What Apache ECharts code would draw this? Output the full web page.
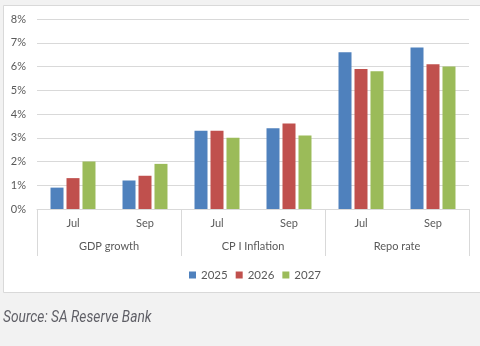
<!DOCTYPE html>
<html>
<head>
<meta charset="utf-8">
<script src="https://cdn.jsdelivr.net/npm/echarts@6/dist/echarts.min.js"></script>
<style>
html,body{margin:0;padding:0;background:#f2f2f2;}
#c{width:480px;height:346px;}
</style>
</head>
<body>
<div id="c"></div>
<script>
const months = ['Jul','Sep','Jul','Sep','Jul','Sep'];
const groups = ['GDP growth','CP I Inflation','Repo rate'];
const seriesNames = ['2025','2026','2027'];
const v2025 = [0.9, 1.2, 3.3, 3.4, 6.6, 6.8];
const v2026 = [1.3, 1.4, 3.3, 3.6, 5.9, 6.1];
const v2027 = [2.0, 1.9, 3.0, 3.1, 5.8, 6.0];
const yTicks = [0, 8, 1];
const sourceText = 'Source: SA Reserve Bank';

const colors = ['#4f81bd','#c0504d','#9bbb59'];
const values = [v2025, v2026, v2027];
const font = 'Lato';
const chart = echarts.init(document.getElementById('c'));
chart.setOption({
  animation:false,
  backgroundColor:'#f2f2f2',
  color:colors,
  graphic:[
    {type:'rect', z:-10, shape:{x:3.5,y:5.5,width:490,height:287}, style:{fill:'#ffffff',stroke:'#d9d9d9',lineWidth:1}},
    {type:'text', x:3, y:309, scaleX:0.81, style:{text:sourceText, font:'italic 400 17px Roboto', fill:'#5f5f66'}}
  ],
  grid:{left:37,right:11,top:19,bottom:137},
  legend:{
    data:seriesNames, top:264, left:184, itemWidth:7, itemHeight:7, itemGap:8,
    icon:'rect', textStyle:{fontFamily:font,fontSize:11.5,color:'#595959'}
  },
  xAxis:[
    {type:'category', data:months, position:'bottom',
     axisLine:{show:true,lineStyle:{color:'#d9d9d9'}}, axisTick:{show:false},
     axisLabel:{margin:9,fontFamily:font,fontSize:11,color:'#595959'}},
    {type:'category', data:groups, position:'bottom',
     axisLine:{show:false}, axisTick:{show:true,length:47,lineStyle:{color:'#d9d9d9'}},
     axisLabel:{margin:32,fontFamily:font,fontSize:11,color:'#595959'}}
  ],
  yAxis:{type:'value', min:yTicks[0], max:yTicks[1], interval:yTicks[2],
    axisLine:{show:false}, axisTick:{show:false},
    axisLabel:{formatter:'{value}%',margin:11,fontFamily:font,fontSize:11,color:'#595959'},
    splitLine:{lineStyle:{color:'#d9d9d9'}}},
  series: seriesNames.map((n,i)=>({
    name:n, type:'bar', xAxisIndex:0, data:values[i], barWidth:13, barGap:'23%'
  }))
});
</script>
</body>
</html>
